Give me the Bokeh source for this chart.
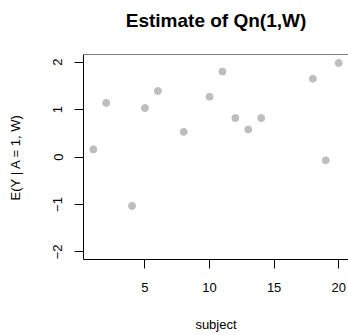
from bokeh.plotting import figure
from bokeh.models import FixedTicker, Range1d, Span, Title
from bokeh.embed import file_html
from bokeh.resources import INLINE

subjects = [1, 2, 4, 5, 6, 8, 10, 11, 12, 13, 14, 18, 19, 20]
estimates = [0.16, 1.14, -1.03, 1.03, 1.39, 0.53, 1.27, 1.80, 0.82, 0.58, 0.82, 1.65, -0.07, 1.98]
x_ticks = [5, 10, 15, 20]
y_ticks = [-2, -1, 0, 1, 2]
title_text = "Estimate of Qn(1,W)"

FONT = "Liberation Sans"

p = figure(width=348, height=335, output_backend="svg", toolbar_location=None,
           x_range=Range1d(0.24, 20.76), y_range=Range1d(-2.16, 2.16),
           min_border_left=83, min_border_right=0, min_border_top=0, min_border_bottom=76)
p.outline_line_color = None
p.grid.visible = False
p.background_fill_color = "white"
p.border_fill_color = "white"

# spacer panel between the title and the frame
spacer = Title(text=" ", text_font_size="1px", standoff=14)
p.add_layout(spacer, "above")
title = Title(text=title_text, text_font=FONT, text_font_size="19px", text_font_style="bold",
              align="center", text_color="black", standoff=14)
p.add_layout(title, "above")

p.scatter(subjects, estimates, size=7, color="#bebebe", line_color="#bebebe")

top = Span(location=2.16, dimension="width", line_color="black", line_width=1)
p.add_layout(top)

for ax in (p.xaxis[0], p.yaxis[0]):
    ax.axis_line_color = "black"
    ax.major_tick_line_color = "black"
    ax.major_tick_out = 9
    ax.major_tick_in = 0
    ax.minor_tick_line_color = None
    ax.major_label_text_font = FONT
    ax.major_label_text_font_size = "13px"
    ax.major_label_text_color = "black"
    ax.axis_label_text_font = FONT
    ax.axis_label_text_font_size = "13px"
    ax.axis_label_text_font_style = "normal"
    ax.axis_label_text_color = "black"

p.xaxis.ticker = FixedTicker(ticks=x_ticks)
p.yaxis.ticker = FixedTicker(ticks=y_ticks)
p.xaxis.axis_label = "subject"
p.yaxis.axis_label = "E(Y | A = 1, W)"
p.yaxis.major_label_orientation = "vertical"
p.xaxis.major_label_standoff = 14
p.xaxis.axis_label_standoff = 22
p.yaxis.major_label_standoff = 12
p.yaxis.axis_label_standoff = 28

open("out.html", "w").write(file_html(p, INLINE))
